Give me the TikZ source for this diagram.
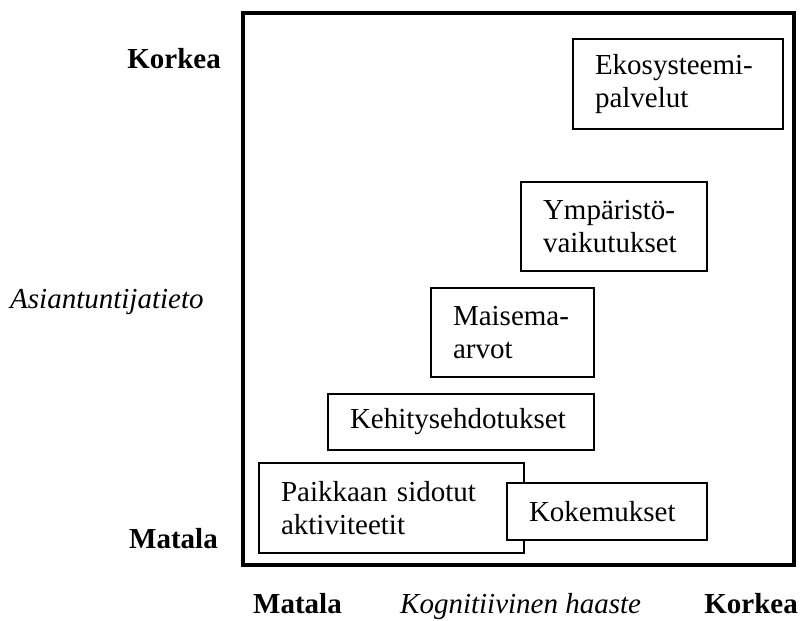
\documentclass[tikz,border=0pt]{standalone}
\usepackage{fontspec}
\setmainfont{Liberation Serif}
\usepackage{tikz}

\begin{document}
\begin{tikzpicture}[x=1pt,y=-1pt,
	box/.style={draw, line width=1.6pt, fill=white, align=left, inner xsep=22pt, inner ysep=0pt,
		font=\fontsize{29}{33}\selectfont},
	lab/.style={inner sep=0pt, font=\fontsize{29}{33}\selectfont}]
			\useasboundingbox (0,0) rectangle (801,621);

			% frame
			\draw [line width=4pt] (243,13) rectangle (794,565);

			% boxes, top to bottom
			\node [box, text width=166pt, minimum height=90pt] (eko) at (678,84) {Ekosysteemi-\\palvelut};
			\node [box, text width=142pt, minimum height=89pt] (ymp) at (614,226.5) {Ympäristö-\\vaikutukset};
			\node [box, text width=119pt, minimum height=89pt] (mai) at (512.5,332.5) {Maisema-\\arvot};
			\node [box, text width=222pt, minimum height=56pt] (keh) at (461,422) {Kehitysehdotukset};
			\node [box, text width=221pt, minimum height=90pt] (pai) at (391.5,508) {Paikkaan sidotut\\aktiviteetit};
			\node [box, text width=156pt, minimum height=57pt] (kok) at (607,511.5) {Kokemukset};

			% labels on y axis
			\node [lab, anchor=base east] (ykork) at (221,68) {\textbf{Korkea}};
			\node [lab, anchor=base west] (ytieto) at (10,308) {\textit{Asiantuntijatieto}};
			\node [lab, anchor=base east] (ymat) at (218,548) {\textbf{Matala}};

			% labels on x axis
			\node [lab, anchor=base west] (xmat) at (253,613) {\textbf{Matala}};
			\node [lab, anchor=base west] (xhaaste) at (400,613) {\textit{Kognitiivinen haaste}};
			\node [lab, anchor=base east] (xkork) at (798,613) {\textbf{Korkea}};

		\end{tikzpicture}
\end{document}
